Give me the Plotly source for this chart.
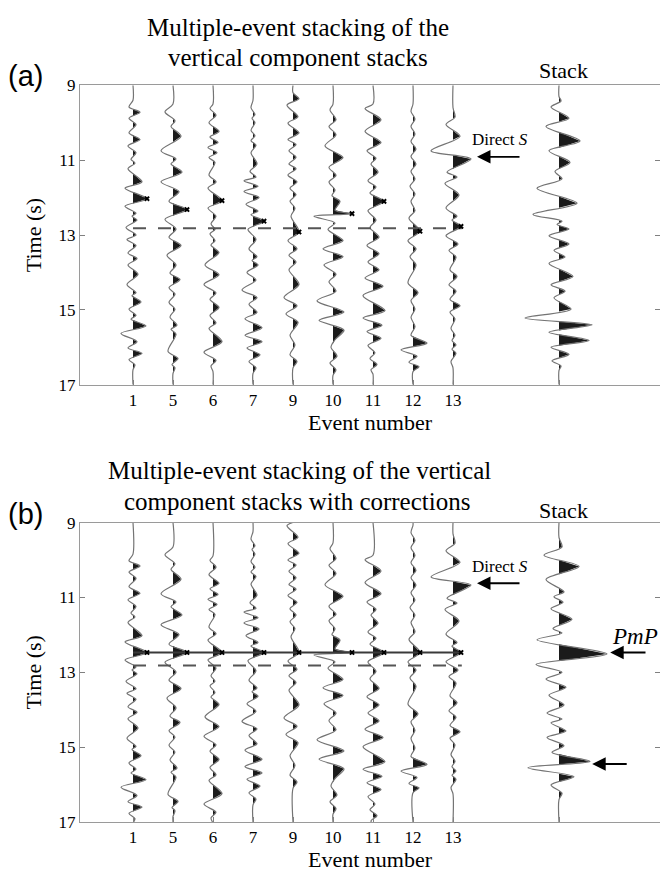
import numpy as np
import plotly.graph_objects as go

# ---------------- data ----------------
EVENTS = ["1", "5", "6", "7", "9", "10", "11", "12", "13"]

# extrema of each event trace (panel a): time (s) and amplitude (px, 40 px = one trace slot)
E1_T = [9.40, 9.58, 9.72, 9.88, 10.05, 10.27, 10.45, 10.62, 10.80, 10.98, 11.08, 11.23, 11.58, 11.75, 12.03, 12.23, 12.42, 12.50, 12.60, 12.80, 13.00, 13.12, 13.28, 13.48, 13.63, 13.80, 14.05, 14.32, 14.54, 14.62, 14.79, 14.98, 15.15, 15.25, 15.43, 15.63, 15.85, 16.02, 16.16, 16.33, 16.47, 16.60]
E1_A = [0, -4, 7, -4, 3, -4, 7, -5, 3, -2, 2, -5, 9, -8, 14, -8, 3, -1, 4, -7, 3, -6, 3, -5, 4, -5, 5, -6, 3, -1, 8, -4, 3, -2, 13, -12, 4, -5, 9, -4, 2, 0]
E5_T = [9.50, 9.71, 9.95, 10.10, 10.36, 10.75, 10.97, 11.10, 11.32, 11.58, 11.84, 12.10, 12.32, 12.58, 12.84, 13.06, 13.28, 13.54, 13.80, 14.02, 14.19, 14.41, 14.58, 14.80, 14.98, 15.19, 15.41, 15.52, 15.65, 16.11, 16.30, 16.46, 16.55, 16.70]
E5_A = [0, -8, 2, -2, 8, -12, 3, -2, 9, -12, 6, -4, 14, -8, 3, -4, 8, -6, 3, -3, 7, -4, 2, -4, 2, -3, 4, -2, 3, -5, 5, -1, 2, 0]
E6_T = [9.50, 9.62, 9.80, 10.00, 10.23, 10.38, 10.53, 10.66, 10.80, 10.93, 11.06, 11.40, 11.58, 11.75, 12.08, 12.28, 12.50, 12.70, 12.85, 12.97, 13.15, 13.27, 13.47, 13.80, 14.06, 14.32, 14.55, 14.72, 14.94, 15.15, 15.35, 15.50, 15.85, 16.13, 16.35, 16.50, 16.65]
E6_A = [0, -3, 3, -4, 6, -3, 5, -5, 4, -4, 2, -4, 3, -5, 9, -5, 3, -2, 2, -3, 2, -2, 6, -8, 6, -9, 3, -3, 6, -3, 3, -4, 9, -9, 3, -2, 0]
E7_T = [9.40, 9.60, 9.78, 9.88, 10.00, 10.20, 10.35, 10.48, 10.60, 10.80, 11.10, 11.30, 11.45, 11.55, 11.70, 11.84, 12.00, 12.18, 12.36, 12.46, 12.63, 12.85, 13.12, 13.37, 13.58, 13.68, 13.80, 14.00, 14.20, 14.47, 14.67, 14.85, 15.07, 15.24, 15.48, 15.68, 15.85, 16.02, 16.20, 16.38, 16.55, 16.70]
E7_A = [0, -2, 2, -1, 2, -2, 2, -2, 3, -2, 4, -3, 3, -9, 5, -9, 6, -7, 5, -2, 11, -5, 3, -4, 4, -1, 5, -6, 3, -11, 4, -4, 4, -8, 9, -8, 9, -6, 7, -4, 3, 0]
E9_T = [9.20, 9.36, 9.53, 9.84, 10.01, 10.27, 10.45, 10.58, 10.75, 10.92, 11.10, 11.23, 11.40, 11.58, 11.75, 11.92, 12.10, 12.28, 12.50, 12.92, 13.15, 13.37, 13.54, 13.72, 13.93, 14.32, 14.67, 14.89, 15.11, 15.33, 15.68, 15.94, 16.20, 16.38, 16.55]
E9_A = [0, 6, -6, 5, -5, 6, -5, 3, -4, 3, -4, 3, -5, 4, -3, 3, -3, 2, -2, 6, -5, 4, -4, 3, -4, 6, -9, 4, -7, 5, -3, 2, -3, 4, 0]
E10_T = [9.50, 9.66, 9.92, 10.10, 10.32, 10.62, 10.93, 11.19, 11.41, 11.58, 11.80, 11.95, 12.10, 12.34, 12.43, 12.50, 12.68, 12.85, 13.15, 13.37, 13.58, 13.80, 14.05, 14.25, 14.50, 14.76, 15.06, 15.28, 15.54, 15.80, 16.00, 16.24, 16.42, 16.60, 16.75]
E10_A = [0, -3, 3, -4, 3, -8, 10, -4, 3, -4, 2, -1, 7, 2, 19, -19, 2, -5, 10, -10, 10, -9, 3, -4, 3, -16, 11, -14, 11, 2, -2, 4, -3, 3, 0]
E11_T = [9.50, 9.62, 9.92, 10.23, 10.53, 10.75, 10.95, 11.10, 11.32, 11.55, 11.72, 11.88, 12.10, 12.35, 12.60, 12.80, 13.06, 13.28, 13.50, 13.72, 13.93, 14.15, 14.37, 14.62, 15.02, 15.22, 15.41, 15.58, 15.76, 15.95, 16.15, 16.30, 16.46, 16.60, 16.72]
E11_A = [0, -8, 8, -8, 8, -6, 3, -2, 5, -5, 3, -3, 11, -5, 3, -3, 6, -6, 6, -5, 6, -8, 10, -10, 12, -10, 9, -6, 8, -5, 2, -3, 4, -2, 0]
E12_T = [9.50, 9.70, 9.90, 10.10, 10.30, 10.50, 10.70, 10.90, 11.10, 11.30, 11.50, 11.70, 11.90, 12.10, 12.35, 12.55, 12.90, 13.15, 13.37, 13.58, 13.80, 14.28, 14.54, 14.75, 14.98, 15.20, 15.45, 15.68, 15.89, 16.07, 16.24, 16.40, 16.52, 16.65]
E12_A = [0, -2, 2, -2, 2, -2, 3, -2, 3, -2, 2, -3, 2, -2, 2, -4, 7, -5, 3, -3, 3, -5, 5, -2, 2, -2, 2, -2, 14, -12, 4, -4, 6, 0]
E13_T = [9.60, 9.85, 10.05, 10.36, 10.75, 10.97, 11.32, 11.45, 11.62, 11.93, 12.28, 12.50, 12.60, 12.77, 13.02, 13.24, 13.41, 13.59, 13.93, 14.11, 14.33, 14.50, 14.72, 14.89, 15.06, 15.24, 15.50, 15.68, 15.82, 15.94, 16.05, 16.16, 16.38, 16.55]
E13_A = [0, 2, -7, 7, -22, 18, -6, 4, -8, 6, -7, 4, -1, 8, -7, 5, -4, 3, -3, 4, -4, 3, -3, 7, -3, 2, -2, 2, -1, 3, -1, 3, -2, 0]

# stack traces
STACK_A_T = [9.30, 9.42, 9.58, 9.88, 10.10, 10.49, 10.75, 11.06, 11.30, 11.50, 11.75, 12.15, 12.45, 12.63, 12.72, 12.84, 13.02, 13.24, 13.41, 13.59, 13.76, 14.11, 14.33, 14.50, 14.68, 14.98, 15.22, 15.40, 15.60, 15.82, 16.00, 16.19, 16.36, 16.50, 16.62]
STACK_A_A = [0, 2, -8, 10, -13, 21, -10, 11, -4, 3, -22, 18, -26, 3, -2, 10, -10, 10, -5, 6, -10, 14, -8, 6, -5, 12, -34, 33, -10, 30, -8, 10, -7, 2, 0]
STACK_B_T = [9.40, 9.65, 9.87, 10.17, 10.52, 10.85, 10.98, 11.13, 11.30, 11.58, 11.83, 11.95, 12.13, 12.51, 12.79, 13.00, 13.18, 13.40, 13.61, 13.87, 14.09, 14.25, 14.35, 14.57, 14.74, 14.96, 15.14, 15.38, 15.55, 15.79, 16.01, 16.23, 16.40]
STACK_B_A = [0, 3, -15, 20, -13, 5, -5, 4, -8, 13, -6, 3, -22, 48, -23, 3, -13, 7, -10, 5, -12, 3, -8, 7, -12, 5, -7, 31, -31, 15, -8, 3, 0]

# picks (panel a): time and amplitude of the picked peak on each trace
PICK_T = [12.03, 12.32, 12.08, 12.63, 12.92, 12.43, 12.10, 12.90, 12.77]
PICK_A = [14, 14, 9, 11, 6, 19, 11, 7, 8]
PMP_T = 12.47        # aligned PmP time in panel b
REF_T = 12.82        # dashed reference line
DIRECT_S_T = [10.91, 10.62]
SECOND_T = 15.45

Y_TICKS = [9, 11, 13, 15, 17]
T_MIN, T_MAX = 9, 17

# ---------------- helpers ----------------
PX_PER_SLOT = 40.0
TRACE_X = list(range(len(EVENTS)))
STACK_X = 10.65
LINE_C = "#747474"
FILL_C = "#1b1b1b"

EV_T = [E1_T, E5_T, E6_T, E7_T, E9_T, E10_T, E11_T, E12_T, E13_T]
EV_A = [E1_A, E5_A, E6_A, E7_A, E9_A, E10_A, E11_A, E12_A, E13_A]

fig = go.Figure()


def add_wiggle(t, a, x0, xa, ya, shift=0.0):
    t = np.asarray(t, float) + shift
    a = np.asarray(a, float) / PX_PER_SLOT
    tt = np.concatenate([[min(T_MIN, t[0] - 0.1)], t, [max(T_MAX, t[-1] + 0.1)]])
    aa = np.concatenate([[0.0], a, [0.0]])
    pts = []
    for k in range(len(tt) - 1):
        pts.append((tt[k], aa[k]))
        if aa[k] * aa[k + 1] < 0:
            tz = tt[k] + (tt[k + 1] - tt[k]) * aa[k] / (aa[k] - aa[k + 1])
            pts.append((tz, 0.0))
    pts.append((tt[-1], aa[-1]))
    fx, fy = [], []
    k = 0
    while k < len(pts):
        if pts[k][1] > 0:
            run = [pts[k - 1]]
            while k < len(pts) and pts[k][1] > 0:
                run.append(pts[k])
                k += 1
            if k < len(pts):
                run.append(pts[k])
            fx += [x0 + p[1] for p in run] + [None]
            fy += [p[0] for p in run] + [None]
        else:
            k += 1
    fig.add_trace(go.Scatter(x=fx, y=fy, mode="lines", fill="toself", fillcolor=FILL_C,
                             line=dict(width=0, color=FILL_C), xaxis=xa, yaxis=ya,
                             hoverinfo="skip", showlegend=False))
    fig.add_trace(go.Scatter(x=x0 + aa, y=tt, mode="lines",
                             line=dict(color=LINE_C, width=1.2, shape="spline", smoothing=0.9),
                             xaxis=xa, yaxis=ya, hoverinfo="skip", showlegend=False))


corr = [PMP_T - p for p in PICK_T]

for i in range(len(EVENTS)):
    add_wiggle(EV_T[i], EV_A[i], TRACE_X[i], "x", "y")
    add_wiggle(EV_T[i], EV_A[i], TRACE_X[i], "x2", "y2", shift=corr[i])
add_wiggle(STACK_A_T, STACK_A_A, STACK_X, "x", "y")
add_wiggle(STACK_B_T, STACK_B_A, STACK_X, "x2", "y2")

for xa, ya in (("x", "y"), ("x2", "y2")):
    fig.add_trace(go.Scatter(x=[TRACE_X[0], TRACE_X[-1] + 0.22], y=[REF_T, REF_T], mode="lines",
                             line=dict(color="#555555", width=2, dash="13px,12px"),
                             xaxis=xa, yaxis=ya, hoverinfo="skip", showlegend=False))

pick_x = [TRACE_X[i] + PICK_A[i] / PX_PER_SLOT for i in range(len(EVENTS))]
fig.add_trace(go.Scatter(x=pick_x, y=PICK_T, mode="markers",
                         marker=dict(symbol="x", size=5, color="black"),
                         xaxis="x", yaxis="y", hoverinfo="skip", showlegend=False))
fig.add_trace(go.Scatter(x=[TRACE_X[0]] + pick_x, y=[PMP_T] * (len(pick_x) + 1), mode="lines",
                         line=dict(color="#3a3a3a", width=2),
                         xaxis="x2", yaxis="y2", hoverinfo="skip", showlegend=False))
fig.add_trace(go.Scatter(x=pick_x, y=[PMP_T] * len(pick_x), mode="markers",
                         marker=dict(symbol="x", size=5, color="black"),
                         xaxis="x2", yaxis="y2", hoverinfo="skip", showlegend=False))

# empty traces so the right-hand tick axes are drawn
for xa, ya in (("x", "y3"), ("x2", "y4")):
    fig.add_trace(go.Scatter(x=[None], y=[None], mode="lines", xaxis=xa, yaxis=ya,
                             hoverinfo="skip", showlegend=False))

H = 877.0
W = 660.0
XDOM = [80 / W, 1.0]
YDOM_A = [1 - 384 / H, 1 - 78 / H]
YDOM_B = [1 - 831 / H, 1 - 525 / H]
XR = [(80 - 133) / PX_PER_SLOT, (660 - 133) / PX_PER_SLOT]

SERIF = "Liberation Serif"
axis_common = dict(showgrid=False, zeroline=False, showline=True, linecolor="#9a9a9a", linewidth=1,
                   ticks="inside", ticklen=5, tickcolor="#808080",
                   tickfont=dict(family=SERIF, size=17, color="black"))

xt = dict(axis_common, range=XR, tickvals=TRACE_X + [STACK_X], ticktext=EVENTS + [""], mirror=True,
          title=dict(text="Event number", font=dict(family=SERIF, size=22, color="black"), standoff=0))
yt = dict(axis_common, range=[T_MAX, T_MIN], tickvals=Y_TICKS, mirror=False,
          title=dict(text="Time (s)", font=dict(family=SERIF, size=22, color="black"), standoff=10))
yr = dict(showgrid=False, zeroline=False, showline=False, ticks="inside", ticklen=5, tickcolor="#808080",
          showticklabels=False, range=[T_MAX, T_MIN], tickvals=Y_TICKS, side="right")

fig.update_layout(
    width=660, height=877, autosize=False,
    margin=dict(l=0, r=0, t=0, b=0),
    paper_bgcolor="white", plot_bgcolor="white",
    xaxis=dict(xt, domain=XDOM, anchor="y"),
    yaxis=dict(yt, domain=YDOM_A, anchor="x"),
    xaxis2=dict(xt, domain=XDOM, anchor="y2"),
    yaxis2=dict(yt, domain=YDOM_B, anchor="x2"),
    yaxis3=dict(yr, overlaying="y", anchor="x"),
    yaxis4=dict(yr, overlaying="y2", anchor="x2"),
)

ann = []
def ptxt(x, y, text, size, family=SERIF):
    ann.append(dict(x=x / W, y=1 - y / H, xref="paper", yref="paper", text=text, showarrow=False,
                    font=dict(family=family, size=size, color="black"), xanchor="center", yanchor="middle"))

ptxt(298, 19, "Multiple-event stacking of the", 25)
ptxt(298, 50, "vertical component stacks", 25)
ptxt(299, 472, "Multiple-event stacking of the vertical", 25)
ptxt(297, 503, "component stacks with corrections", 25)
ptxt(26, 68, "(a)", 29, family="Liberation Sans")
ptxt(26, 516, "(b)", 29, family="Liberation Sans")
ptxt(563, 63, "Stack", 22)
ptxt(563, 513, "Stack", 22)
fig.update_layout(annotations=ann)

for (xa, ya, ts, lab_dt) in (("x", "y", DIRECT_S_T[0], -0.47), ("x2", "y2", DIRECT_S_T[1], -0.44)):
    fig.add_annotation(x=8.6, y=ts, ax=9.7, ay=ts, xref=xa, yref=ya, axref=xa, ayref=ya,
                       showarrow=True, arrowhead=2, arrowsize=1.5, arrowwidth=1.8, arrowcolor="black", text="")
    fig.add_annotation(x=9.18, y=ts + lab_dt, xref=xa, yref=ya, showarrow=False,
                       text="Direct <i>S</i>", font=dict(family=SERIF, size=17, color="black"))

fig.add_annotation(x=11.93, y=PMP_T, ax=12.85, ay=PMP_T, xref="x2", yref="y2", axref="x2", ayref="y2",
                   showarrow=True, arrowhead=2, arrowsize=1.5, arrowwidth=1.8, arrowcolor="black", text="")
fig.add_annotation(x=12.55, y=PMP_T - 0.42, xref="x2", yref="y2", showarrow=False,
                   text="<i>PmP</i>", font=dict(family=SERIF, size=23, color="black"))
fig.add_annotation(x=11.48, y=SECOND_T, ax=12.38, ay=SECOND_T, xref="x2", yref="y2", axref="x2", ayref="y2",
                   showarrow=True, arrowhead=2, arrowsize=1.5, arrowwidth=1.8, arrowcolor="black", text="")

fig.write_html("out.html")
